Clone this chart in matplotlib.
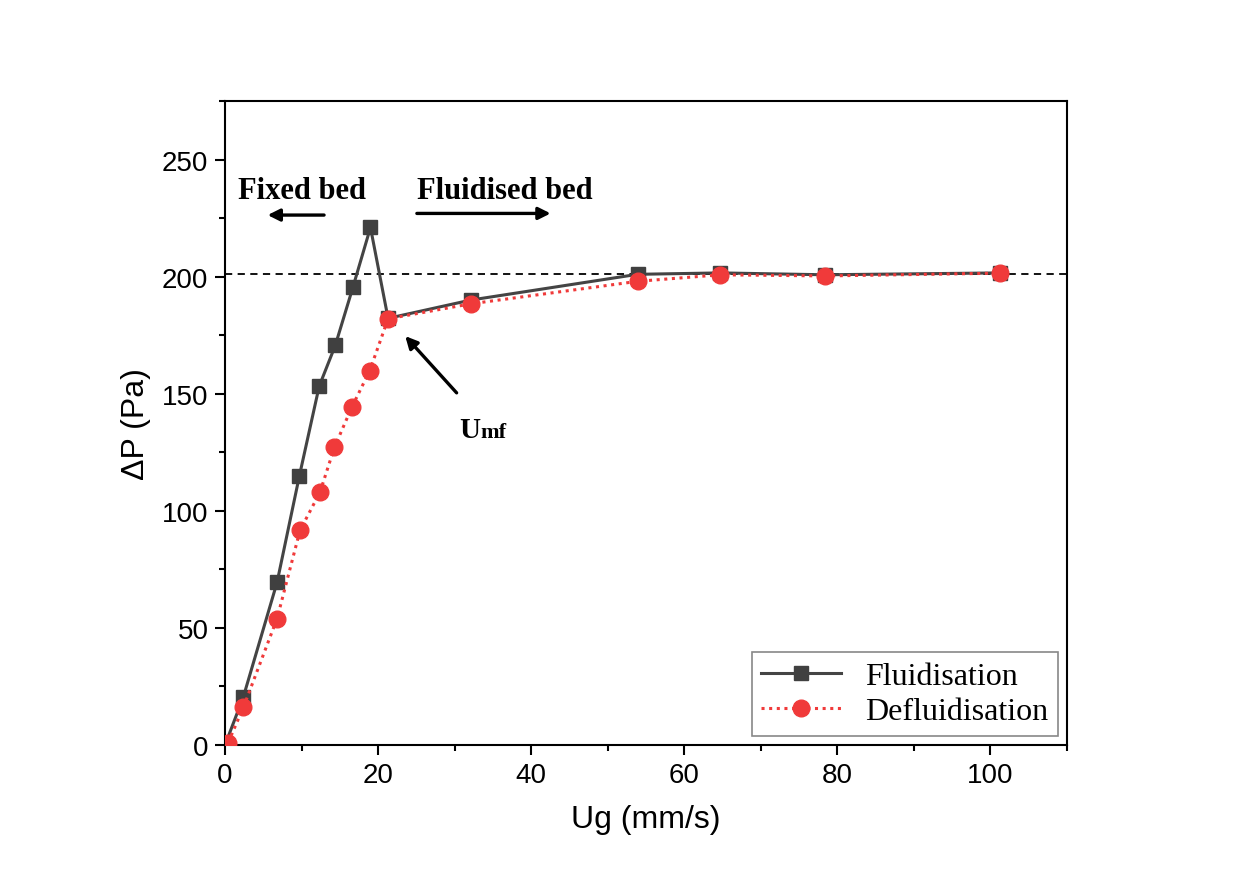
import matplotlib
matplotlib.use("Agg")
import matplotlib.pyplot as plt
from matplotlib.ticker import MultipleLocator

plt.rcParams['font.family'] = ['Liberation Sans', 'DejaVu Sans']

# Data
ug_fluid = [0, 2.4, 6.8, 9.7, 12.3, 14.4, 16.7, 19.0, 21.3, 32.1, 53.9, 64.7, 78.4, 101.3]
dp_fluid = [0, 20.6, 69.5, 114.7, 153.2, 170.6, 195.4, 221.0, 182.2, 190.0, 201.0, 201.6, 200.8, 201.6]

ug_defluid = [0.4, 2.4, 6.8, 9.8, 12.4, 14.3, 16.6, 18.9, 21.3, 32.1, 53.9, 64.7, 78.4, 101.3]
dp_defluid = [1.0, 16.1, 54.0, 91.7, 107.9, 127.2, 144.5, 159.8, 182.0, 188.4, 198.0, 200.8, 200.3, 201.5]

dp_plateau = 201.0

x_label = "Ug (mm/s)"
y_label = "ΔP (Pa)"
series_labels = ["Fluidisation", "Defluidisation"]

fig = plt.figure(figsize=(12.44, 8.95), dpi=100)
ax = fig.add_axes([0.1809, 0.1665, 0.8577 - 0.1809, 0.886 - 0.1665])

ax.axhline(dp_plateau, color='black', linestyle=(0, (4, 3)), linewidth=1.3, zorder=1)

ax.plot(ug_fluid, dp_fluid, color='#444444', linewidth=2.2, marker='s',
        markersize=10.5, markerfacecolor='#404040', markeredgecolor='#404040',
        label=series_labels[0], zorder=3)
ax.plot(ug_defluid, dp_defluid, color='#f03a3a', linewidth=2.2, linestyle=(0, (1, 1.5)),
        marker='o', markersize=12, markerfacecolor='#f03a3a', markeredgecolor='#f03a3a',
        label=series_labels[1], zorder=4)

ax.set_xlim(0, 110)
ax.set_ylim(0, 275)
ax.xaxis.set_major_locator(MultipleLocator(20))
ax.xaxis.set_minor_locator(MultipleLocator(10))
ax.yaxis.set_major_locator(MultipleLocator(50))
ax.yaxis.set_minor_locator(MultipleLocator(25))
ax.tick_params(which='major', direction='out', length=7, width=1.5, labelsize=20, pad=5)
ax.tick_params(which='minor', direction='out', length=4, width=1.5)
for s in ax.spines.values():
    s.set_linewidth(1.5)

ax.set_xlabel(x_label, fontsize=23, labelpad=12)
ax.set_ylabel(y_label, fontsize=23, labelpad=8)

serif = ['Liberation Serif', 'DejaVu Serif']
ax.text(10.0, 236.8, "Fixed bed", fontsize=22, fontweight='bold', family=serif,
        ha='center', va='center')
ax.text(36.6, 236.8, "Fluidised bed", fontsize=22, fontweight='bold', family=serif,
        ha='center', va='center')
ax.annotate("", xy=(5.2, 226.3), xytext=(13.3, 226.3),
            arrowprops=dict(arrowstyle='-|>', color='black', lw=2.4, mutation_scale=18))
ax.annotate("", xy=(42.9, 227), xytext=(24.7, 227),
            arrowprops=dict(arrowstyle='-|>', color='black', lw=2.4, mutation_scale=18))
ax.annotate("", xy=(23.3, 175.5), xytext=(30.5, 149.5),
            arrowprops=dict(arrowstyle='-|>', color='black', lw=2.4, mutation_scale=18))
ax.text(33.3, 131.4, "U", fontsize=21, fontweight='bold', family=serif,
        ha='right', va='baseline')
ax.text(33.3, 131.4, "mf", fontsize=16, fontweight='bold', family=serif,
        ha='left', va='baseline')

leg = ax.legend(loc='lower right', bbox_to_anchor=(0.989, 0.014), borderaxespad=0,
                fancybox=False, edgecolor='#888888', framealpha=1,
                prop={'family': serif, 'size': 23},
                handlelength=2.5, borderpad=0.3, labelspacing=0.18, handletextpad=0.75)
leg.get_frame().set_linewidth(1.2)

fig.savefig("out.png", dpi=100)
